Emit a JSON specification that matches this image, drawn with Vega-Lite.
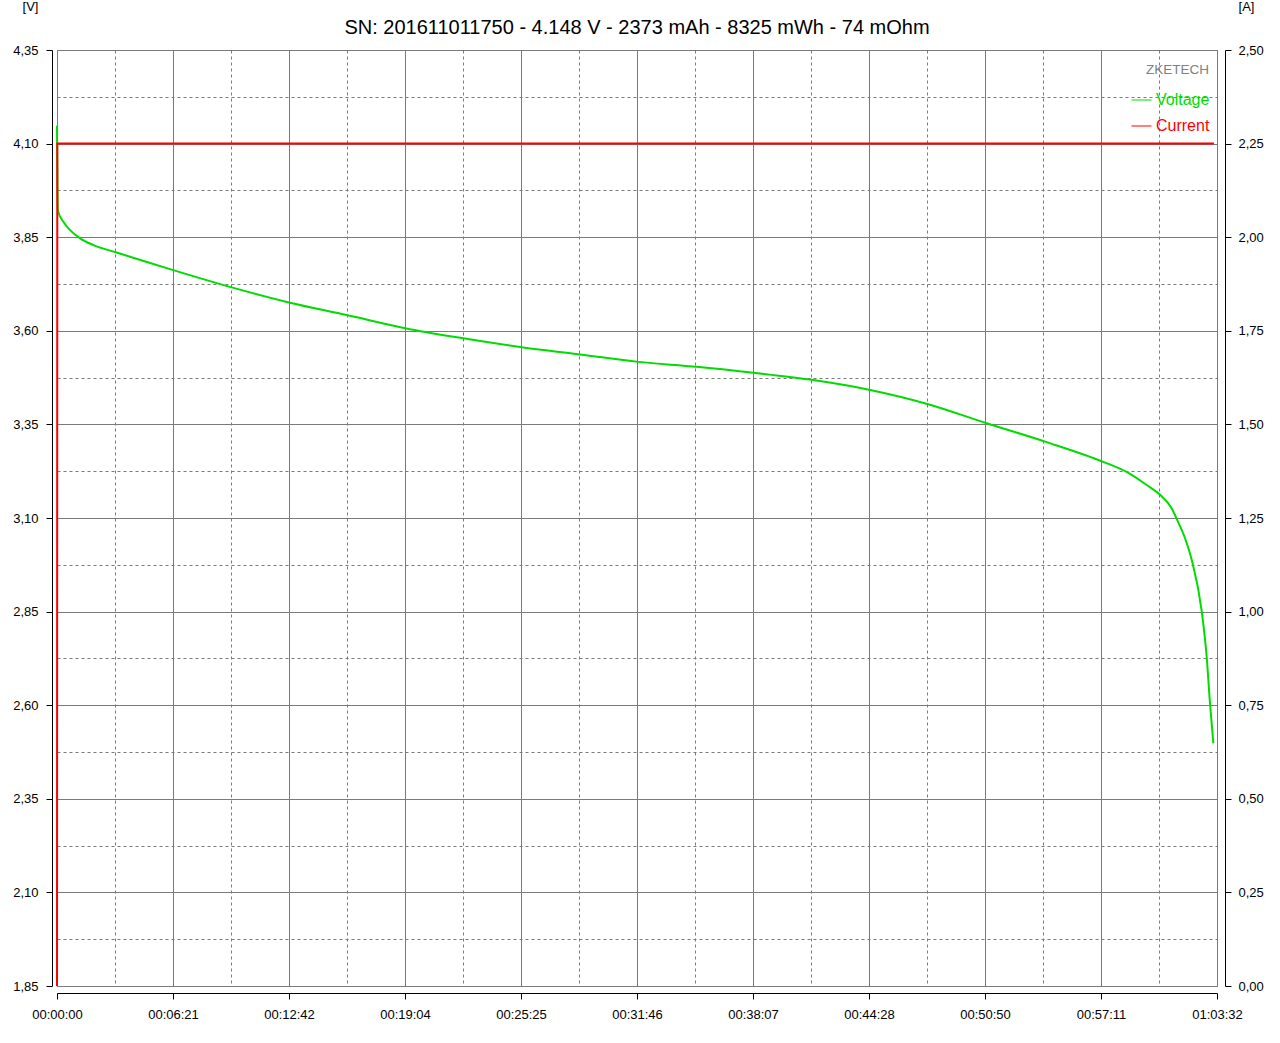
{
  "$schema": "https://vega.github.io/schema/vega-lite/v6.json",
  "width": 1160,
  "height": 936,
  "autosize": "none",
  "padding": {"left": 57, "top": 50, "right": 63, "bottom": 57},
  "background": "white",
  "config": {
    "view": {"stroke": "#808080", "strokeWidth": 1},
    "font": "Liberation Sans",
    "axis": {
      "domainColor": "black",
      "tickColor": "black",
      "tickSize": 6,
      "labelColor": "black",
      "labelFont": "Liberation Sans",
      "labelFontSize": 13,
      "titleFont": "Liberation Sans",
      "titleFontSize": 13,
      "titleFontWeight": "normal",
      "titleColor": "black",
      "gridColor": "#7a7a7a",
      "gridWidth": 1,
      "gridOpacity": 1
    }
  },
  "title": {
    "text": "SN: 201611011750 - 4.148 V - 2373 mAh - 8325 mWh - 74 mOhm",
    "font": "Liberation Sans",
    "fontSize": 20,
    "fontWeight": "normal",
    "color": "black",
    "frame": "group",
    "anchor": "middle",
    "baseline": "alphabetic",
    "offset": 0,
    "dy": 54
  },
  "data": {
    "values": [
      {"series": "Voltage", "t": 0, "v": 4.148},
      {"series": "Voltage", "t": 3, "v": 3.921},
      {"series": "Voltage", "t": 21, "v": 3.891},
      {"series": "Voltage", "t": 43, "v": 3.869},
      {"series": "Voltage", "t": 76, "v": 3.847},
      {"series": "Voltage", "t": 120, "v": 3.829},
      {"series": "Voltage", "t": 196, "v": 3.809},
      {"series": "Voltage", "t": 290, "v": 3.785},
      {"series": "Voltage", "t": 382, "v": 3.762},
      {"series": "Voltage", "t": 574, "v": 3.716},
      {"series": "Voltage", "t": 766, "v": 3.675},
      {"series": "Voltage", "t": 952, "v": 3.642},
      {"series": "Voltage", "t": 1144, "v": 3.607},
      {"series": "Voltage", "t": 1335, "v": 3.58},
      {"series": "Voltage", "t": 1527, "v": 3.556},
      {"series": "Voltage", "t": 1719, "v": 3.537},
      {"series": "Voltage", "t": 1910, "v": 3.517},
      {"series": "Voltage", "t": 2102, "v": 3.504},
      {"series": "Voltage", "t": 2288, "v": 3.488},
      {"series": "Voltage", "t": 2480, "v": 3.469},
      {"series": "Voltage", "t": 2672, "v": 3.442},
      {"series": "Voltage", "t": 2863, "v": 3.404},
      {"series": "Voltage", "t": 3055, "v": 3.353},
      {"series": "Voltage", "t": 3247, "v": 3.304},
      {"series": "Voltage", "t": 3438, "v": 3.25},
      {"series": "Voltage", "t": 3515, "v": 3.223},
      {"series": "Voltage", "t": 3581, "v": 3.188},
      {"series": "Voltage", "t": 3625, "v": 3.162},
      {"series": "Voltage", "t": 3663, "v": 3.126},
      {"series": "Voltage", "t": 3680, "v": 3.097},
      {"series": "Voltage", "t": 3707, "v": 3.046},
      {"series": "Voltage", "t": 3729, "v": 2.988},
      {"series": "Voltage", "t": 3762, "v": 2.85},
      {"series": "Voltage", "t": 3778, "v": 2.73},
      {"series": "Voltage", "t": 3789, "v": 2.605},
      {"series": "Voltage", "t": 3800, "v": 2.498},
      {"series": "Current", "t": 0, "v": 0},
      {"series": "Current", "t": 1, "v": 2.25},
      {"series": "Current", "t": 3802, "v": 2.25}
    ]
  },
  "encoding": {
    "x": {
      "field": "t",
      "type": "quantitative",
      "scale": {"domain": [0, 3812], "nice": false, "zero": false},
      "axis": {
        "title": null,
        "values": [0, 190.6, 381.2, 571.8, 762.4, 953, 1143.6, 1334.2, 1524.8, 1715.4, 1906, 2096.6, 2287.2, 2477.8, 2668.4, 2859, 3049.6, 3240.2, 3430.8, 3621.4, 3812],
        "labelExpr": "round(datum.value / 190.6) % 2 == 1 ? '' : utcFormat(round(datum.value) * 1000, '%H:%M:%S')",
        "labelFlush": false,
        "labelOverlap": false,
        "labelPadding": 9,
        "offset": 7,
        "grid": true,
        "gridDash": {"condition": {"test": "round(datum.value / 190.6) % 2 == 1", "value": [3, 3]}, "value": []},
        "tickOpacity": {"condition": {"test": "round(datum.value / 190.6) % 2 == 1", "value": 0}, "value": 1}
      }
    }
  },
  "layer": [
    {
      "transform": [{"filter": "datum.series === 'Voltage'"}],
      "mark": {"type": "line", "strokeWidth": 2, "interpolate": "monotone"},
      "encoding": {
        "y": {
          "field": "v",
          "type": "quantitative",
          "scale": {"domain": [1.85, 4.35], "nice": false, "zero": false},
          "axis": {
            "orient": "left",
            "title": "[V]",
            "titleAngle": 0,
            "titleX": -22,
            "titleY": -40,
            "titleAlign": "center",
            "titleBaseline": "alphabetic",
            "values": [1.85, 1.975, 2.1, 2.225, 2.35, 2.475, 2.6, 2.725, 2.85, 2.975, 3.1, 3.225, 3.35, 3.475, 3.6, 3.725, 3.85, 3.975, 4.1, 4.225, 4.35],
            "labelExpr": "round((datum.value - 1.85) / 0.125) % 2 == 1 ? '' : replace(format(datum.value, '.2f'), '.', ',')",
            "labelOverlap": false,
            "labelFlush": false,
            "labelPadding": 8,
            "offset": 5,
            "grid": true,
            "gridDash": {"condition": {"test": "round((datum.value - 1.85) / 0.125) % 2 == 1", "value": [3, 3]}, "value": []},
            "tickOpacity": {"condition": {"test": "round((datum.value - 1.85) / 0.125) % 2 == 1", "value": 0}, "value": 1}
          }
        },
        "color": {
          "field": "series",
          "type": "nominal",
          "scale": {"domain": ["Voltage", "Current"], "range": ["#00dc00", "#ff0000"]},
          "legend": {
            "orient": "none",
            "legendX": 1074,
            "legendY": 13,
            "title": "ZKETECH",
            "titleColor": "#808080",
            "titleFont": "Liberation Sans",
            "titleFontSize": 13.5,
            "titleFontWeight": "normal",
            "titleAlign": "right",
            "titleAnchor": "end",
            "titlePadding": 13,
            "symbolType": "stroke",
            "symbolSize": 400,
            "symbolStrokeWidth": 1,
            "labelFont": "Liberation Sans",
            "labelFontSize": 16,
            "labelOffset": 4,
            "labelColor": {"expr": "datum.value === 'Voltage' ? '#00dc00' : '#ff0000'"},
            "rowPadding": 7,
            "padding": 0
          }
        }
      }
    },
    {
      "transform": [{"filter": "datum.series === 'Current'"}],
      "mark": {"type": "line", "strokeWidth": 2},
      "encoding": {
        "y": {
          "field": "v",
          "type": "quantitative",
          "scale": {"domain": [0, 2.5], "nice": false, "zero": false},
          "axis": {
            "orient": "right",
            "title": "[A]",
            "titleAngle": 0,
            "titleX": 21,
            "titleY": -40,
            "titleAlign": "center",
            "titleBaseline": "alphabetic",
            "values": [0, 0.25, 0.5, 0.75, 1, 1.25, 1.5, 1.75, 2, 2.25, 2.5],
            "labelExpr": "replace(format(datum.value, '.2f'), '.', ',')",
            "labelOverlap": false,
            "labelFlush": false,
            "labelPadding": 7,
            "offset": 8,
            "grid": false
          }
        },
        "color": {"field": "series", "type": "nominal"}
      }
    }
  ],
  "resolve": {"scale": {"y": "independent"}}
}
